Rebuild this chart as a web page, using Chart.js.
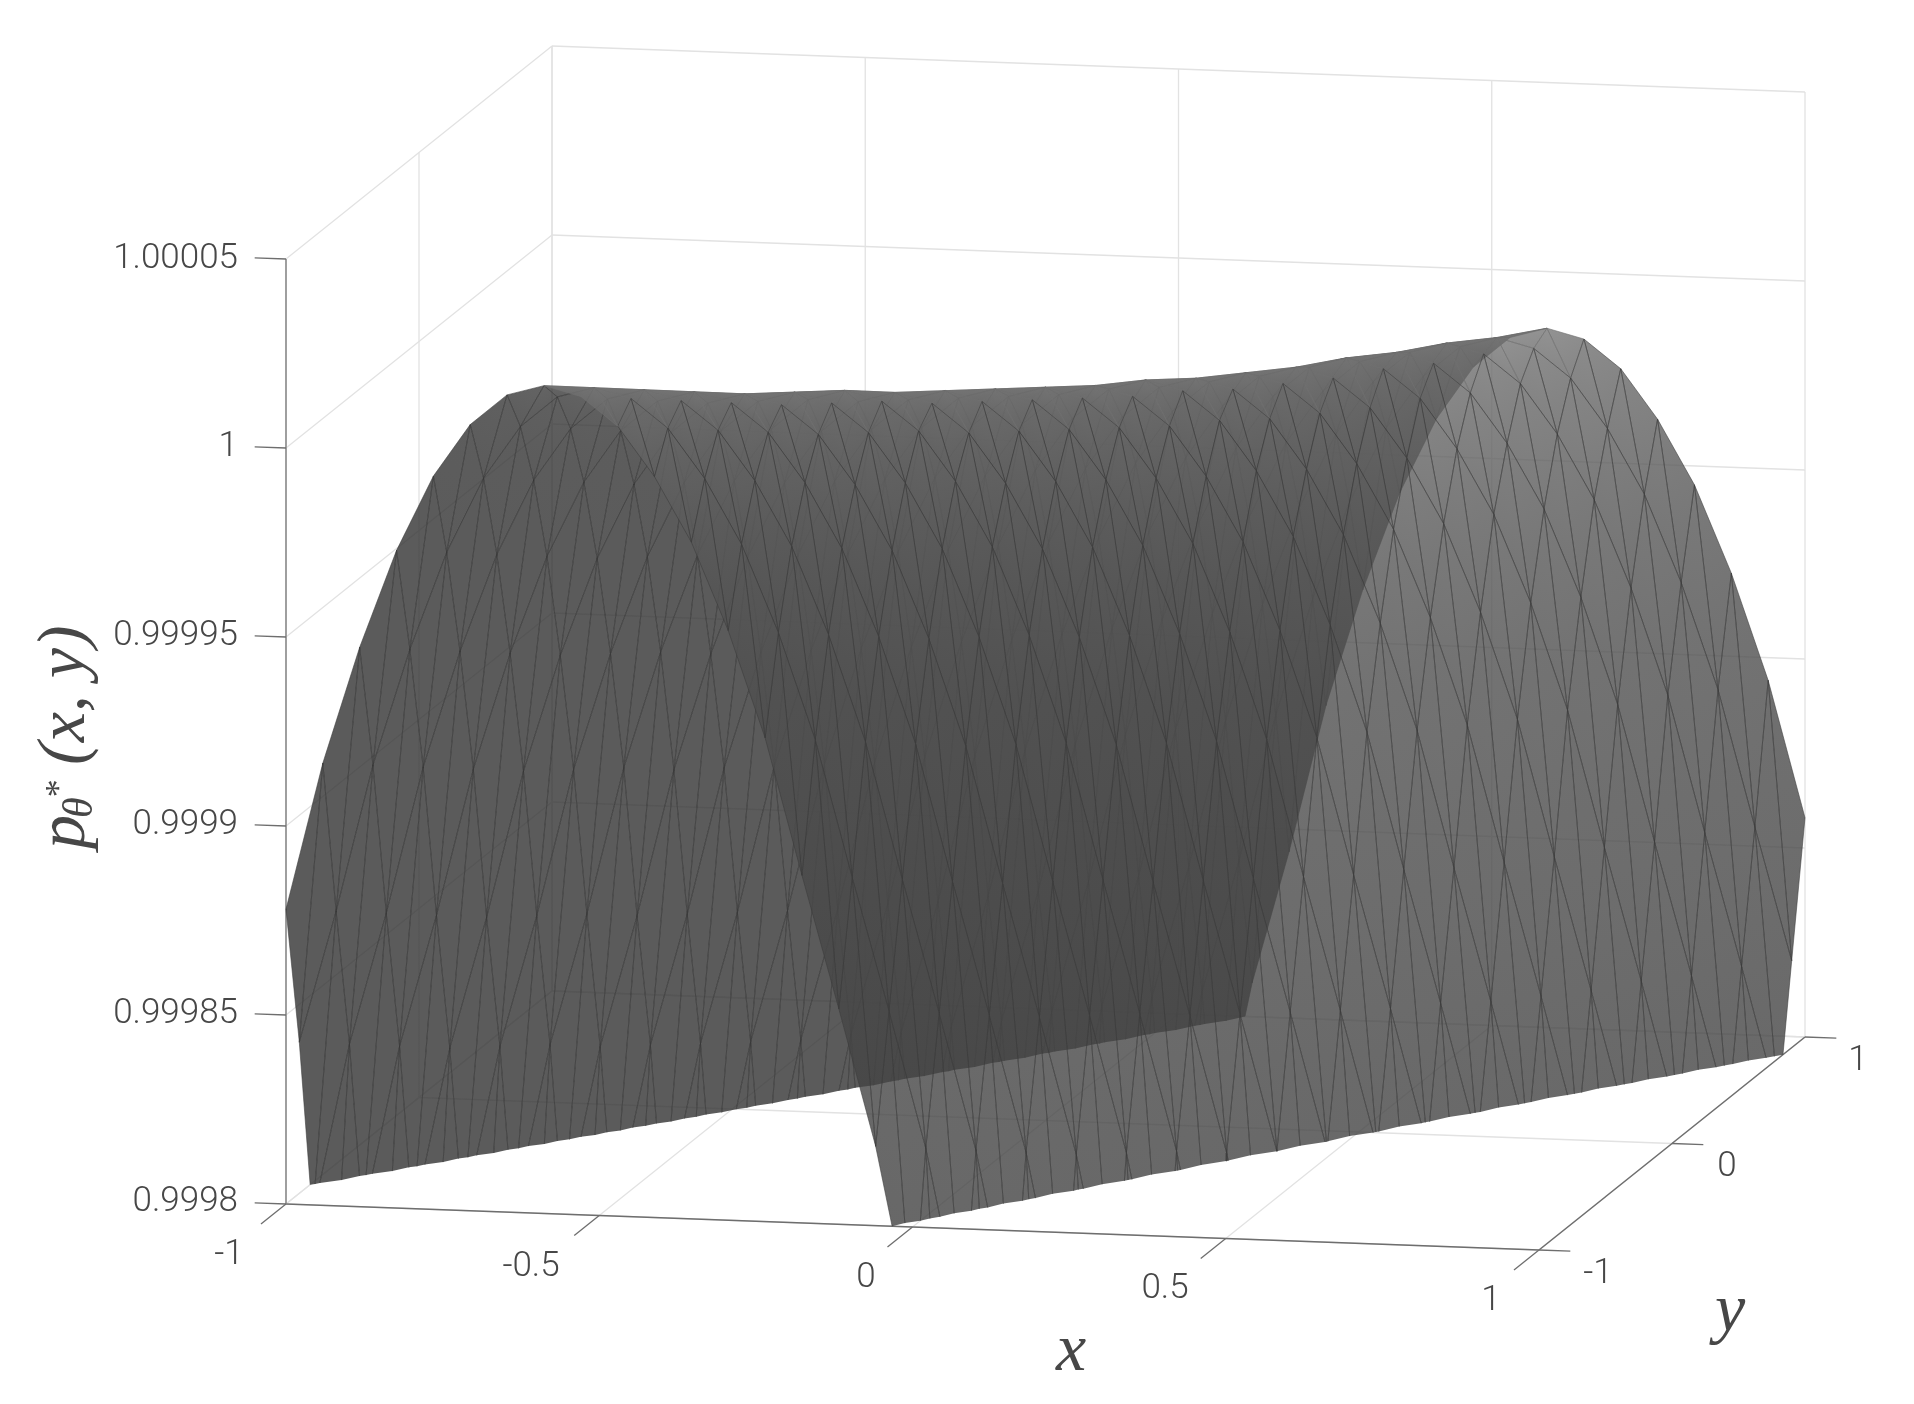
<!DOCTYPE html>
<html>
<head>
<meta charset="utf-8">
<title>surface</title>
<style>
html,body{margin:0;padding:0;background:#fff;}
canvas{display:block;}
</style>
<script src="https://cdn.jsdelivr.net/npm/chart.js@4"></script>
</head>
<body>
<canvas id="surf" width="1914" height="1404"></canvas>
<script>
// axis ticks
const xTicks = [-1, -0.5, 0, 0.5, 1];
const yTicks = [-1, 0, 1];
const zTicks = [0.9998, 0.99985, 0.9999, 0.99995, 1, 1.00005];
const xTickLabels = ['-1', '-0.5', '0', '0.5', '1'];
const yTickLabels = ['-1', '0', '1'];
const zTickLabels = ['0.9998', '0.99985', '0.9999', '0.99995', '1', '1.00005'];

// mesh nodes
const meshX = [-1,-0.9412,-0.8824,-0.8235,-0.7647,-0.7059,-0.6471,-0.5882,-0.5294,-0.4706,-0.4118,-0.3529,-0.2941,-0.2353,-0.1765,-0.1176,-0.0588,0,0.0588,0.1176,0.1765,0.2353,0.2941,0.3529,0.4118,0.4706,0.5294,0.5882,0.6471,0.7059,0.7647,0.8235,0.8824,0.9412,1];
const meshY = [-1,-0.9,-0.8,-0.7,-0.6,-0.5,-0.4,-0.3,-0.2,-0.1,0,0.1,0.2,0.3,0.4,0.5,0.6,0.7,0.8,0.9,1];

// height of the ridge on each meshY row
const ridgeZ = [1.000019,1.000016,1.000013,1.000010,1.000007,1.000005,1.000003,1.000000,0.999998,0.999996,0.999994,0.999992,0.999991,0.999989,0.999988,0.999987,0.999987,0.999986,0.999986,0.999985,0.999985];
// drop below the ridge (in 1e-6) going n mesh columns away from it, each side
const dropBack = [0,2.8,11,25,45,71,102,141,176,222,284,343,408];
const dropFront = [0,2.5,10,23,40,63,91,127,162,198,245,306,364];

const zFloor = 0.9998, zTop = 1.00005;

// oblique axes of the box, in canvas units
const org = {x:286, y:1204};
const xVec = {x:1253, y:46};
const yVec = {x:266, y:-213};
const zVec = {x:0, y:-945};

function project(x, y, z){
  const a = (x + 1) / 2, b = (y + 1) / 2, w = (z - zFloor) / (zTop - zFloor);
  return {x: org.x + a * xVec.x + b * yVec.x, y: org.y + a * xVec.y + b * yVec.y + w * zVec.y};
}
function depth(x, y, z){
  return -0.2123 * (x + 1) / 2 + (y + 1) / 2 - 0.2357 * (z - zFloor) / (zTop - zFloor);
}

const datasets = [];
function addLine(pts, color, width){
  datasets.push({data: pts.map(p => project(p[0], p[1], p[2])), borderColor: color, borderWidth: width,
    showLine: true, pointRadius: 0, fill: false, tension: 0, clip: false});
}

// grid on walls and floor
const gridColor = '#e2e2e2';
xTicks.forEach(x => {
  addLine([[x,-1,zFloor],[x,1,zFloor]], gridColor, 1.3);
  addLine([[x,1,zFloor],[x,1,zTop]], gridColor, 1.3);
});
yTicks.forEach(y => {
  addLine([[-1,y,zFloor],[1,y,zFloor]], gridColor, 1.3);
  addLine([[-1,y,zFloor],[-1,y,zTop]], gridColor, 1.3);
});
zTicks.forEach(z => {
  addLine([[-1,-1,z],[-1,1,z]], gridColor, 1.3);
  addLine([[-1,1,z],[1,1,z]], gridColor, 1.3);
});

// axes and tick marks
const axisColor = '#6e6e6e';
addLine([[-1,-1,zFloor],[1,-1,zFloor]], axisColor, 1.5);
addLine([[1,-1,zFloor],[1,1,zFloor]], axisColor, 1.5);
addLine([[-1,-1,zFloor],[-1,-1,zTop]], '#858585', 1.5);
xTicks.forEach(x => addLine([[x,-1,zFloor],[x,-1.188,zFloor]], axisColor, 1.3));
yTicks.forEach(y => addLine([[1,y,zFloor],[1.05,y,zFloor]], axisColor, 1.3));
zTicks.forEach(z => addLine([[-1,-1,z],[-1.05,-1,z]], axisColor, 1.3));

// facet colours by distance from the ridge
const shadeFront = [119,111,104,96,89,81,76,74,70,66,64,64,64];
const shadeBack = [61,56,52,50,50,50,50,50,50,50,50,50,50];
const faceAlpha = 0.8;
const edgeColor = 'rgba(58,58,58,0.55)';
const edgeColorTop = 'rgba(112,112,112,0.6)';

function nodeOf(i, j){
  const k = i - j - 7;
  const n = Math.abs(k);
  if(n >= dropBack.length) return null;
  const drop = k < 0 ? dropBack[n] : dropFront[n];
  return {x: meshX[i], y: meshY[j], z: ridgeZ[j] - drop * 1e-6, k: k};
}

// cut a facet at the bottom of the z range
function clipFacet(tri){
  const out = [];
  for(let n = 0; n < 3; n++){
    const p = tri[n], q = tri[(n + 1) % 3];
    if(p.z >= zFloor) out.push({x:p.x, y:p.y, z:p.z, cut:false});
    if((p.z >= zFloor) !== (q.z >= zFloor)){
      const t = (zFloor - p.z) / (q.z - p.z);
      out.push({x:p.x + (q.x - p.x) * t, y:p.y + (q.y - p.y) * t, z:zFloor, cut:true});
    }
  }
  return out;
}

const facets = [];
for(let j = 0; j < meshY.length - 1; j++){
  for(let i = 0; i < meshX.length - 1; i++){
    const a = nodeOf(i, j), b = nodeOf(i + 1, j), c = nodeOf(i, j + 1), d = nodeOf(i + 1, j + 1);
    // the quad on the ridge is split along the ridge, the others across it
    const tris = (a && a.k === 0) ? [[a,b,d],[a,d,c]] : [[a,b,c],[b,d,c]];
    tris.forEach(tri => {
      if(tri.some(n => !n)) return;
      const poly = clipFacet(tri);
      if(poly.length < 3) return;
      const meanK = (tri[0].k + tri[1].k + tri[2].k) / 3;
      const cx = poly.reduce((s,p) => s + p.x, 0) / poly.length;
      const cy = poly.reduce((s,p) => s + p.y, 0) / poly.length;
      const cz = poly.reduce((s,p) => s + p.z, 0) / poly.length;
      facets.push({tri, poly, meanK, d: depth(cx, cy, cz)});
    });
  }
}
// far side first, then the side facing the camera
facets.sort((p, q) => {
  const ps = p.meanK < 0 ? 0 : 1, qs = q.meanK < 0 ? 0 : 1;
  if(ps !== qs) return ps - qs;
  return q.d - p.d;
});

// shading runs from the node nearest the ridge to the farthest one
function shadeRamp(f){
  const shades = f.meanK < 0 ? shadeBack : shadeFront;
  const nodes = f.tri.map(n => ({p: project(n.x, n.y, n.z), n: Math.abs(n.k)})).sort((u, v) => u.n - v.n);
  const lo = nodes[0], mid = nodes[1], hi = nodes[2];
  const t = hi.n === lo.n ? 0 : (mid.n - lo.n) / (hi.n - lo.n);
  const ix = lo.p.x + (hi.p.x - lo.p.x) * t, iy = lo.p.y + (hi.p.y - lo.p.y) * t;
  let ux = mid.p.x - ix, uy = mid.p.y - iy;
  if(Math.abs(ux) + Math.abs(uy) < 1e-6){ ux = hi.p.x - mid.p.x; uy = hi.p.y - mid.p.y; }
  const len = Math.hypot(ux, uy) || 1;
  const nx = -uy / len, ny = ux / len;
  const s0 = (lo.p.x - ix) * nx + (lo.p.y - iy) * ny;
  const s1 = (hi.p.x - ix) * nx + (hi.p.y - iy) * ny;
  return {x0: ix + nx * s0, y0: iy + ny * s0, x1: ix + nx * s1, y1: iy + ny * s1,
    g0: shades[Math.min(12, lo.n)], g1: shades[Math.min(12, hi.n)]};
}

facets.forEach(f => {
  let pts = f.poly;
  // leave the cut side without an edge line
  let start = -1;
  for(let m = 0; m < pts.length; m++){
    if(pts[m].cut && pts[(m + 1) % pts.length].cut) start = (m + 1) % pts.length;
  }
  if(start >= 0) pts = pts.slice(start).concat(pts.slice(0, start));
  else pts = pts.concat([pts[0]]);
  datasets.push({data: pts.map(p => project(p.x, p.y, p.z)),
    borderColor: (f.meanK >= 0 && f.meanK < 1.5) ? edgeColorTop : edgeColor, borderWidth: 1,
    ramp: shadeRamp(f), showLine: true, pointRadius: 0, fill: false, tension: 0, clip: false});
});

// later datasets on top
datasets.forEach((ds, i) => { ds.order = datasets.length - i; });

const facePlugin = {
  id: 'facePlugin',
  beforeDatasetDraw(chart, args){
    const ds = chart.data.datasets[args.index];
    if(!ds.ramp) return;
    const ctx = chart.ctx, pts = args.meta.data, r = ds.ramp;
    const sx = chart.scales.x, sy = chart.scales.y;
    const grad = ctx.createLinearGradient(sx.getPixelForValue(r.x0), sy.getPixelForValue(r.y0), sx.getPixelForValue(r.x1), sy.getPixelForValue(r.y1));
    grad.addColorStop(0, `rgba(${r.g0},${r.g0},${r.g0},${faceAlpha})`);
    grad.addColorStop(1, `rgba(${r.g1},${r.g1},${r.g1},${faceAlpha})`);
    ctx.save();
    ctx.beginPath();
    pts.forEach((p, i) => { if(i) ctx.lineTo(p.x, p.y); else ctx.moveTo(p.x, p.y); });
    ctx.closePath();
    ctx.fillStyle = grad;
    ctx.fill();
    ctx.restore();
  }
};

const labelFont = '300 35px Roboto, "Liberation Sans", sans-serif';
const mathFont = 'italic 68px "Liberation Serif", serif';
const textColor = '#474747';
// label centres in canvas units
const zLabelY = [1202.5, 1014.5, 825.5, 636, 447.5, 259];
const xLabelPos = [[229,1255.5],[531,1267],[866,1278],[1165,1289.5],[1491,1301]];
const yLabelPos = [[1598,1274.5],[1727,1167.5],[1858,1061]];

const textPlugin = {
  id: 'textPlugin',
  afterDraw(chart){
    const ctx = chart.ctx, sx = chart.scales.x, sy = chart.scales.y;
    ctx.save();
    ctx.fillStyle = textColor;
    ctx.font = labelFont;
    ctx.textBaseline = 'middle';
    ctx.textAlign = 'right';
    zTickLabels.forEach((t, i) => ctx.fillText(t, sx.getPixelForValue(238), sy.getPixelForValue(zLabelY[i])));
    ctx.textAlign = 'center';
    xTickLabels.forEach((t, i) => ctx.fillText(t, sx.getPixelForValue(xLabelPos[i][0]), sy.getPixelForValue(xLabelPos[i][1])));
    yTickLabels.forEach((t, i) => ctx.fillText(t, sx.getPixelForValue(yLabelPos[i][0]), sy.getPixelForValue(yLabelPos[i][1])));

    ctx.font = mathFont;
    ctx.textBaseline = 'alphabetic';
    ctx.fillText('x', sx.getPixelForValue(1071), sy.getPixelForValue(1370));
    ctx.fillText('y', sx.getPixelForValue(1730), sy.getPixelForValue(1331));

    // z title, built from pieces and turned on its side
    ctx.translate(sx.getPixelForValue(84), sy.getPixelForValue(849));
    ctx.rotate(-Math.PI / 2);
    ctx.textAlign = 'left';
    ctx.fillText('p', 0, 0);
    ctx.font = 'italic 42px "Liberation Serif", serif';
    ctx.fillText('\u03b8', 31, 8);
    ctx.font = 'italic 36px "Liberation Serif", serif';
    ctx.fillText('*', 50, -14);
    ctx.font = mathFont;
    ctx.fillText('(x, y)', 84, 0);
    ctx.restore();
  }
};

new Chart(document.getElementById('surf').getContext('2d'), {
  type: 'scatter',
  data: {datasets: datasets},
  options: {
    responsive: false,
    animation: false,
    events: [],
    layout: {padding: 0},
    plugins: {legend: {display: false}, tooltip: {enabled: false}},
    scales: {
      x: {type: 'linear', min: 0, max: 1914, display: false},
      y: {type: 'linear', min: 0, max: 1404, reverse: true, display: false}
    }
  },
  plugins: [facePlugin, textPlugin]
});
</script>
</body>
</html>
